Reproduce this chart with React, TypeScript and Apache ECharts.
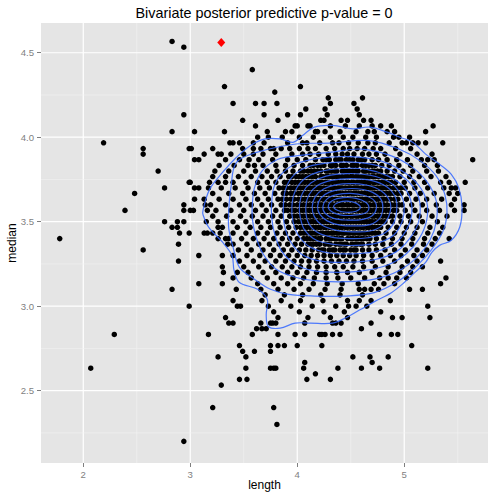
import React, { useEffect, useRef } from "react";
import * as echarts from "echarts";

// Posterior predictive draws: each row = one median value with the lengths observed at it
const medianRows: [number, number[]][] = [
  [4.567, [2.83]],
  [4.533, [2.94]],
  [4.4, [3.58]],
  [4.3, [3.32, 4.03]],
  [4.267, [3.79]],
  [4.233, [4.29, 4.61]],
  [4.2, [3.4, 3.61, 3.69, 3.81, 4.31, 4.53]],
  [4.167, [4.08, 4.26, 4.56]],
  [4.133, [2.94, 3.69, 3.91, 4.03, 4.28, 4.58]],
  [4.1, [3.49, 3.82, 4.22, 4.25, 4.41, 4.47, 4.62, 4.69]],
  [4.067, [3.61, 3.98, 4.0, 4.1, 4.12, 4.31, 4.45, 4.58, 4.7, 4.78, 4.88, 5.27]],
  [4.033, [2.83, 3.04, 3.32, 3.72, 3.89, 3.95, 4.17, 4.19, 4.26, 4.4, 4.55, 4.66, 4.72, 4.84, 4.91, 5.2]],
  [4.0, [3.63, 3.73, 3.86, 4.02, 4.15, 4.31, 4.43, 4.52, 4.64, 4.74, 4.9, 4.95, 5.05]],
  [3.967, [2.19, 3.37, 3.4, 3.46, 3.59, 3.69, 3.91, 4.05, 4.09, 4.21, 4.33, 4.39, 4.48, 4.57, 4.66, 4.73, 4.86, 4.98, 5.02, 5.08, 5.13, 5.2, 5.36]],
  [3.933, [2.56, 2.99, 3.01, 3.21, 3.49, 3.59, 3.66, 3.75, 3.78, 3.85, 3.93, 4.02, 4.1, 4.17, 4.27, 4.35, 4.43, 4.49, 4.56, 4.63, 4.71, 4.78, 4.92, 5.06]],
  [3.9, [2.56, 3.13, 3.26, 3.29, 3.38, 3.5, 3.59, 3.68, 3.8, 3.95, 4.05, 4.12, 4.2, 4.29, 4.36, 4.42, 4.47, 4.53, 4.61, 4.67, 4.74, 4.82, 4.96, 5.12, 5.26]],
  [3.867, [3.04, 3.08, 3.33, 3.46, 3.55, 3.64, 3.77, 3.91, 4.0, 4.08, 4.17, 4.24, 4.3, 4.36, 4.41, 4.46, 4.52, 4.57, 4.63, 4.7, 4.76, 4.84, 4.93, 5.03, 5.16, 5.22, 5.28, 5.64]],
  [3.833, [3.27, 3.41, 3.54, 3.6, 3.68, 3.8, 3.89, 3.97, 4.05, 4.12, 4.19, 4.25, 4.31, 4.36, 4.41, 4.46, 4.51, 4.56, 4.61, 4.67, 4.73, 4.79, 4.86, 4.95, 5.06, 5.19, 5.31]],
  [3.8, [2.7, 3.23, 3.36, 3.5, 3.61, 3.72, 3.81, 3.89, 3.96, 4.03, 4.1, 4.16, 4.22, 4.27, 4.32, 4.37, 4.42, 4.47, 4.52, 4.57, 4.62, 4.67, 4.72, 4.78, 4.84, 4.91, 4.99, 5.08, 5.21, 5.32]],
  [3.767, [3.21, 3.33, 3.45, 3.57, 3.67, 3.76, 3.84, 3.92, 3.99, 4.05, 4.11, 4.17, 4.22, 4.27, 4.32, 4.37, 4.42, 4.47, 4.52, 4.57, 4.62, 4.67, 4.72, 4.77, 4.83, 4.89, 4.96, 5.05, 5.14, 5.25, 5.39]],
  [3.733, [2.99, 3.0, 3.18, 3.26, 3.33, 3.4, 3.52, 3.63, 3.72, 3.8, 3.88, 3.95, 4.01, 4.07, 4.13, 4.18, 4.23, 4.28, 4.33, 4.38, 4.43, 4.48, 4.53, 4.58, 4.63, 4.68, 4.73, 4.79, 4.85, 4.92, 5.0, 5.09, 5.19, 5.34, 5.42, 5.57]],
  [3.7, [2.76, 3.04, 3.08, 3.17, 3.29, 3.42, 3.54, 3.65, 3.74, 3.83, 3.9, 3.97, 4.03, 4.09, 4.15, 4.2, 4.25, 4.3, 4.35, 4.4, 4.45, 4.5, 4.55, 4.6, 4.65, 4.7, 4.75, 4.8, 4.86, 4.93, 5.01, 5.1, 5.22, 5.37, 5.44, 5.48]],
  [3.667, [2.48, 3.21, 3.36, 3.49, 3.6, 3.7, 3.79, 3.87, 3.94, 4.01, 4.07, 4.13, 4.18, 4.23, 4.28, 4.33, 4.38, 4.43, 4.48, 4.53, 4.58, 4.63, 4.68, 4.73, 4.78, 4.84, 4.9, 4.97, 5.05, 5.15, 5.28, 5.42, 5.5]],
  [3.633, [3.04, 3.13, 3.27, 3.4, 3.52, 3.63, 3.73, 3.82, 3.9, 3.97, 4.04, 4.1, 4.16, 4.21, 4.26, 4.31, 4.36, 4.41, 4.46, 4.51, 4.56, 4.61, 4.66, 4.71, 4.76, 4.81, 4.87, 4.94, 5.02, 5.11, 5.21, 5.35, 5.47]],
  [3.6, [2.94, 3.14, 3.19, 3.33, 3.46, 3.57, 3.67, 3.76, 3.85, 3.93, 4.0, 4.06, 4.12, 4.18, 4.23, 4.28, 4.33, 4.38, 4.43, 4.48, 4.53, 4.58, 4.63, 4.68, 4.73, 4.78, 4.84, 4.91, 4.98, 5.07, 5.17, 5.3, 5.44, 5.56]],
  [3.567, [2.39, 2.94, 3.0, 3.03, 3.16, 3.24, 3.38, 3.5, 3.61, 3.71, 3.8, 3.88, 3.95, 4.02, 4.08, 4.14, 4.19, 4.24, 4.29, 4.34, 4.39, 4.44, 4.49, 4.54, 4.59, 4.64, 4.69, 4.74, 4.8, 4.86, 4.93, 5.01, 5.1, 5.21, 5.33, 5.47, 5.56]],
  [3.533, [3.21, 3.34, 3.47, 3.58, 3.68, 3.77, 3.85, 3.93, 4.0, 4.06, 4.12, 4.17, 4.22, 4.27, 4.32, 4.37, 4.42, 4.47, 4.52, 4.57, 4.62, 4.67, 4.72, 4.77, 4.83, 4.89, 4.96, 5.04, 5.14, 5.26, 5.4]],
  [3.5, [2.76, 2.88, 2.94, 3.15, 3.26, 3.4, 3.52, 3.63, 3.73, 3.82, 3.9, 3.97, 4.04, 4.1, 4.15, 4.2, 4.25, 4.3, 4.35, 4.4, 4.45, 4.5, 4.55, 4.6, 4.65, 4.7, 4.76, 4.82, 4.89, 4.97, 5.06, 5.17, 5.31]],
  [3.467, [2.83, 2.88, 3.26, 3.3, 3.44, 3.56, 3.66, 3.75, 3.84, 3.92, 3.99, 4.06, 4.12, 4.17, 4.22, 4.27, 4.32, 4.37, 4.42, 4.47, 4.52, 4.57, 4.62, 4.67, 4.72, 4.78, 4.85, 4.93, 5.02, 5.12, 5.24, 5.36]],
  [3.433, [2.9, 2.99, 3.13, 3.16, 3.21, 3.28, 3.4, 3.52, 3.63, 3.72, 3.81, 3.89, 3.96, 4.03, 4.09, 4.14, 4.19, 4.24, 4.29, 4.34, 4.39, 4.44, 4.49, 4.54, 4.59, 4.64, 4.7, 4.76, 4.83, 4.91, 5.0, 5.1, 5.22, 5.33]],
  [3.4, [1.78, 3.26, 3.33, 3.36, 3.48, 3.59, 3.69, 3.78, 3.86, 3.93, 4.0, 4.06, 4.12, 4.17, 4.22, 4.27, 4.32, 4.37, 4.42, 4.47, 4.52, 4.57, 4.62, 4.68, 4.74, 4.81, 4.89, 4.98, 5.08, 5.19, 5.29, 5.42]],
  [3.367, [2.89, 3.35, 3.4, 3.53, 3.64, 3.74, 3.83, 3.91, 3.98, 4.04, 4.1, 4.15, 4.21, 4.26, 4.31, 4.36, 4.41, 4.46, 4.51, 4.56, 4.61, 4.67, 4.73, 4.8, 4.88, 4.97, 5.07, 5.18, 5.26]],
  [3.333, [2.56, 3.45, 3.57, 3.68, 3.78, 3.87, 3.95, 4.02, 4.08, 4.14, 4.2, 4.25, 4.3, 4.35, 4.4, 4.45, 4.5, 4.55, 4.61, 4.67, 4.74, 4.82, 4.91, 5.01, 5.12, 5.21]],
  [3.3, [3.08, 3.3, 3.4, 3.53, 3.65, 3.75, 3.84, 3.92, 4.0, 4.07, 4.13, 4.19, 4.25, 4.31, 4.37, 4.43, 4.49, 4.55, 4.62, 4.7, 4.78, 4.87, 4.97, 5.09, 5.17]],
  [3.267, [2.89, 3.46, 3.59, 3.7, 3.8, 3.89, 3.97, 4.04, 4.11, 4.18, 4.25, 4.32, 4.39, 4.46, 4.53, 4.61, 4.7, 4.8, 4.91, 5.03, 5.12, 5.34]],
  [3.233, [3.3, 3.5, 3.64, 3.76, 3.86, 3.95, 4.03, 4.11, 4.19, 4.27, 4.35, 4.43, 4.52, 4.62, 4.73, 4.85, 4.98, 5.08, 5.17]],
  [3.2, [3.31, 3.44, 3.54, 3.68, 3.8, 3.91, 4.0, 4.09, 4.18, 4.27, 4.37, 4.47, 4.58, 4.7, 4.83, 4.96, 5.06]],
  [3.167, [3.4, 3.57, 3.72, 3.85, 3.96, 4.06, 4.16, 4.27, 4.38, 4.5, 4.63, 4.77, 4.85, 4.93, 5.02, 5.39]],
  [3.133, [3.08, 3.3, 3.63, 3.78, 3.91, 4.03, 4.15, 4.28, 4.42, 4.57, 4.72, 4.81, 4.91, 5.34]],
  [3.1, [2.83, 3.43, 3.66, 3.82, 3.97, 4.11, 4.26, 4.41, 4.58, 4.63, 4.69, 4.76, 5.05, 5.17]],
  [3.067, [3.7, 3.88, 4.05, 4.22, 4.4, 4.61]],
  [3.033, [3.4, 3.67, 3.85, 4.03, 4.24, 4.47, 4.58, 4.69, 4.87]],
  [3.0, [2.99, 3.44, 3.47, 3.73, 3.94, 4.14, 4.36, 4.48, 4.55, 4.65, 5.22]],
  [2.967, [3.78, 4.02, 4.25, 4.44, 4.78]],
  [2.933, [3.33, 3.82, 4.1, 4.31, 4.47, 4.89, 4.98, 5.24]],
  [2.9, [3.36, 3.4, 3.66, 3.75, 3.77, 3.8, 4.07, 4.33, 4.36, 4.41, 4.69]],
  [2.867, [3.62, 3.67, 3.71, 4.6]],
  [2.833, [2.29, 3.17, 3.58, 3.82, 3.98, 4.07, 4.21, 4.23, 4.26, 4.33, 4.4, 4.77, 4.88, 4.94]],
  [2.767, [3.46, 3.75, 3.82, 3.88, 4.0, 4.23, 5.07]],
  [2.733, [3.49, 3.6, 3.75]],
  [2.7, [3.26, 3.52, 4.52, 4.68, 4.85]],
  [2.667, [4.07, 4.7]],
  [2.633, [2.07, 3.52, 3.75, 3.78, 3.8, 4.06, 4.38, 4.6, 4.77, 5.22]],
  [2.6, [4.17]],
  [2.567, [3.46, 3.53, 4.09, 4.31]],
  [2.533, [3.29]],
  [2.4, [3.21, 3.78]],
  [2.3, [3.81]],
  [2.2, [2.94]],
];

// Extra draws in the densest part of the cloud (overlapping the rows above)
const denseCoreRows: [number, number[]][] = [
  [3.867, [4.27, 4.39, 4.49, 4.6]],
  [3.833, [4.15, 4.22, 4.33, 4.43, 4.53, 4.64, 4.7]],
  [3.8, [4.06, 4.13, 4.19, 4.29, 4.35, 4.44, 4.49, 4.55, 4.64, 4.7, 4.75]],
  [3.767, [3.95, 4.02, 4.08, 4.14, 4.24, 4.29, 4.34, 4.39, 4.45, 4.5, 4.55, 4.6, 4.64, 4.7, 4.75, 4.8, 4.86]],
  [3.733, [3.91, 3.98, 4.04, 4.1, 4.15, 4.21, 4.26, 4.3, 4.36, 4.41, 4.46, 4.51, 4.56, 4.6, 4.66, 4.71, 4.76, 4.82, 4.88]],
  [3.7, [3.87, 3.94, 4.0, 4.06, 4.12, 4.17, 4.22, 4.28, 4.33, 4.38, 4.42, 4.48, 4.53, 4.57, 4.63, 4.68, 4.72, 4.78, 4.83, 4.9, 4.97]],
  [3.667, [3.9, 3.97, 4.04, 4.1, 4.15, 4.21, 4.26, 4.31, 4.35, 4.4, 4.46, 4.51, 4.55, 4.61, 4.66, 4.7, 4.76, 4.81, 4.87, 4.94]],
  [3.633, [3.86, 3.94, 4.01, 4.07, 4.13, 4.18, 4.24, 4.29, 4.33, 4.39, 4.44, 4.49, 4.53, 4.59, 4.64, 4.69, 4.74, 4.79, 4.84, 4.91]],
  [3.6, [3.89, 3.96, 4.03, 4.09, 4.15, 4.21, 4.26, 4.31, 4.36, 4.41, 4.46, 4.51, 4.56, 4.61, 4.66, 4.71, 4.76, 4.81, 4.88, 4.95]],
  [3.567, [3.91, 3.98, 4.05, 4.11, 4.17, 4.22, 4.27, 4.32, 4.37, 4.42, 4.47, 4.52, 4.57, 4.62, 4.67, 4.72, 4.77, 4.83, 4.9]],
  [3.533, [3.97, 4.03, 4.09, 4.15, 4.2, 4.25, 4.3, 4.35, 4.4, 4.45, 4.5, 4.55, 4.6, 4.65, 4.7, 4.75, 4.8, 4.86]],
  [3.5, [4.01, 4.07, 4.13, 4.18, 4.23, 4.28, 4.33, 4.38, 4.43, 4.48, 4.53, 4.58, 4.63, 4.68, 4.73, 4.79]],
  [3.467, [4.03, 4.09, 4.15, 4.2, 4.25, 4.3, 4.35, 4.4, 4.45, 4.5, 4.55, 4.6, 4.65, 4.7, 4.75]],
  [3.433, [4.06, 4.12, 4.17, 4.22, 4.27, 4.32, 4.37, 4.42, 4.47, 4.52, 4.57, 4.62, 4.67, 4.73]],
  [3.4, [4.09, 4.15, 4.2, 4.3, 4.35, 4.4, 4.5, 4.55, 4.6, 4.65]],
  [3.367, [4.13, 4.18, 4.29, 4.39, 4.44, 4.54, 4.59]],
  [3.333, [4.23, 4.33, 4.43, 4.53]],
];

// Observed statistic (red diamond)
const observedLength = [3.29];
const observedMedian = [4.56];

// 2D density contours, outermost first: [length, median] vertices
const densityContours: number[][][] = [
  [[3.12, 3.57], [3.18, 3.69], [3.3, 3.79], [3.43, 3.88], [3.56, 3.95], [3.7, 3.99], [3.84, 3.99], [3.96, 3.97], [4.05, 4.01], [4.16, 4.06], [4.33, 4.07], [4.52, 4.05], [4.68, 4.06], [4.84, 4.03], [4.96, 4.0], [5.08, 3.97], [5.2, 3.9], [5.33, 3.84], [5.44, 3.78], [5.51, 3.7], [5.54, 3.59], [5.52, 3.47], [5.44, 3.39], [5.33, 3.36], [5.26, 3.32], [5.2, 3.26], [5.1, 3.2], [5.0, 3.14], [4.88, 3.08], [4.73, 3.03], [4.59, 2.98], [4.45, 2.93], [4.33, 2.9], [4.12, 2.9], [3.98, 2.9], [3.84, 2.87], [3.73, 2.88], [3.71, 2.95], [3.72, 3.04], [3.63, 3.1], [3.46, 3.14], [3.41, 3.21], [3.39, 3.3], [3.3, 3.38], [3.18, 3.46], [3.12, 3.54]],
  [[3.36, 3.57], [3.38, 3.7], [3.43, 3.85], [3.62, 3.91], [3.99, 3.96], [4.3, 3.965], [4.67, 3.98], [4.95, 3.93], [5.15, 3.86], [5.3, 3.77], [5.38, 3.66], [5.4, 3.55], [5.36, 3.44], [5.25, 3.33], [5.12, 3.24], [4.95, 3.15], [4.72, 3.08], [4.44, 3.06], [4.16, 3.06], [3.92, 3.07], [3.75, 3.1], [3.6, 3.16], [3.46, 3.23], [3.4, 3.35], [3.36, 3.46]],
  [[3.58, 3.6], [3.6, 3.7], [3.67, 3.8], [3.82, 3.87], [3.99, 3.89], [4.3, 3.91], [4.6, 3.93], [4.88, 3.89], [5.08, 3.82], [5.22, 3.73], [5.3, 3.62], [5.3, 3.5], [5.24, 3.39], [5.12, 3.29], [4.95, 3.21], [4.72, 3.16], [4.45, 3.145], [4.2, 3.15], [3.99, 3.17], [3.8, 3.22], [3.68, 3.31], [3.61, 3.42], [3.58, 3.52]],
  [[3.76, 3.6], [3.78, 3.7], [3.85, 3.78], [3.98, 3.84], [4.2, 3.875], [4.5, 3.885], [4.78, 3.86], [4.98, 3.8], [5.13, 3.72], [5.21, 3.62], [5.21, 3.51], [5.14, 3.4], [5.02, 3.31], [4.85, 3.245], [4.62, 3.21], [4.38, 3.2], [4.15, 3.21], [3.98, 3.25], [3.85, 3.33], [3.78, 3.45], [3.76, 3.54]],
  [[3.87, 3.59], [3.89, 3.69], [3.96, 3.77], [4.1, 3.825], [4.32, 3.85], [4.58, 3.85], [4.82, 3.82], [5.0, 3.76], [5.11, 3.68], [5.15, 3.59], [5.13, 3.49], [5.05, 3.4], [4.92, 3.32], [4.72, 3.275], [4.48, 3.26], [4.24, 3.265], [4.06, 3.3], [3.94, 3.38], [3.88, 3.48]],
  [[3.95, 3.59], [3.98, 3.68], [4.06, 3.75], [4.2, 3.795], [4.42, 3.815], [4.65, 3.81], [4.85, 3.77], [4.99, 3.71], [5.06, 3.63], [5.07, 3.54], [5.02, 3.45], [4.91, 3.37], [4.74, 3.325], [4.52, 3.31], [4.3, 3.315], [4.12, 3.35], [4.01, 3.42], [3.96, 3.5]],
  [[4.02, 3.59], [4.05, 3.67], [4.13, 3.73], [4.27, 3.77], [4.47, 3.785], [4.68, 3.775], [4.86, 3.735], [4.96, 3.67], [5.0, 3.59], [4.98, 3.5], [4.9, 3.42], [4.75, 3.375], [4.55, 3.36], [4.35, 3.365], [4.18, 3.39], [4.07, 3.45], [4.03, 3.52]],
  [[4.08, 3.59], [4.11, 3.66], [4.19, 3.715], [4.32, 3.745], [4.5, 3.755], [4.69, 3.745], [4.84, 3.705], [4.92, 3.64], [4.93, 3.57], [4.9, 3.49], [4.81, 3.43], [4.66, 3.405], [4.48, 3.4], [4.31, 3.41], [4.18, 3.44], [4.1, 3.5]],
  [[4.14, 3.59], [4.17, 3.65], [4.25, 3.695], [4.37, 3.72], [4.53, 3.725], [4.69, 3.71], [4.81, 3.67], [4.87, 3.61], [4.86, 3.54], [4.8, 3.48], [4.68, 3.445], [4.52, 3.44], [4.36, 3.45], [4.23, 3.48], [4.16, 3.53]],
  [[4.19, 3.59], [4.22, 3.64], [4.3, 3.675], [4.42, 3.693], [4.56, 3.695], [4.7, 3.675], [4.78, 3.635], [4.8, 3.58], [4.77, 3.52], [4.68, 3.483], [4.55, 3.475], [4.4, 3.48], [4.28, 3.505], [4.21, 3.545]],
  [[4.24, 3.59], [4.28, 3.635], [4.37, 3.66], [4.5, 3.668], [4.63, 3.655], [4.72, 3.625], [4.74, 3.58], [4.7, 3.535], [4.6, 3.512], [4.46, 3.51], [4.34, 3.52], [4.26, 3.55]],
  [[4.29, 3.59], [4.33, 3.625], [4.43, 3.642], [4.55, 3.638], [4.64, 3.615], [4.67, 3.58], [4.63, 3.55], [4.52, 3.538], [4.4, 3.54], [4.32, 3.56]],
  [[4.34, 3.59], [4.39, 3.615], [4.47, 3.622], [4.55, 3.61], [4.59, 3.585], [4.55, 3.562], [4.46, 3.556], [4.38, 3.566]],
];

const xTicks = [2, 3, 4, 5];
const yTicks = [2.5, 3.0, 3.5, 4.0, 4.5];
const xMinorTicks = [2.5, 3.5, 4.5, 5.5];
const yMinorTicks = [2.25, 2.75, 3.25, 3.75, 4.25];
const xRange = [1.605, 5.783];
const yRange = [2.072, 4.676];

const FONT = "'Liberation Sans', Arial, Helvetica, sans-serif";

export default function App() {
  const ref = useRef<HTMLDivElement>(null);

  useEffect(() => {
    if (!ref.current) return;
    const chart = echarts.init(ref.current, undefined, { renderer: "svg" });

    const points: number[][] = [];
    [...medianRows, ...denseCoreRows].forEach(([m, lengths]) =>
      lengths.forEach((l) => points.push([l, m]))
    );

    const vLines = [
      ...xMinorTicks.map((v) => [v, yRange[0], 0]),
      ...xTicks.map((v) => [v, yRange[0], 1]),
    ];
    const hLines = [
      ...yMinorTicks.map((v) => [xRange[0], v, 0]),
      ...yTicks.map((v) => [xRange[0], v, 1]),
    ];

    const gridStyle = (major: number) =>
      major ? { stroke: "#FFFFFF", lineWidth: 1.2 } : { stroke: "#F2F2F2", lineWidth: 0.6 };

    const option: any = {
      animation: false,
      backgroundColor: "#FFFFFF",
      textStyle: { fontFamily: FONT },
      grid: {
        left: 41,
        top: 23,
        right: 0,
        bottom: 31,
        show: true,
        backgroundColor: "#E5E5E5",
        borderWidth: 0,
        containLabel: false,
        outerBoundsMode: "none",
      },
      graphic: [
        {
          type: "text",
          x: 264,
          y: 13,
          style: {
            text: "Bivariate posterior predictive p-value = 0",
            fontSize: 14.4,
            fontFamily: FONT,
            fill: "#000000",
            align: "center",
            verticalAlign: "middle",
          },
        },
      ],
      xAxis: {
        type: "value",
        min: xRange[0],
        max: xRange[1],
        axisLine: { show: false },
        splitLine: { show: false },
        axisTick: {
          show: true,
          length: 4,
          customValues: xTicks,
          lineStyle: { color: "#7F7F7F", width: 1 },
        },
        axisLabel: {
          customValues: xTicks,
          color: "#7F7F7F",
          fontSize: 9.6,
          margin: 6,
          fontFamily: FONT,
          formatter: (v: number) => String(v),
        },
        name: "length",
        nameLocation: "middle",
        nameGap: 16,
        nameMoveOverlap: false,
        nameTextStyle: { color: "#000000", fontSize: 12, fontFamily: FONT },
      },
      yAxis: {
        type: "value",
        min: yRange[0],
        max: yRange[1],
        axisLine: { show: false },
        splitLine: { show: false },
        axisTick: {
          show: true,
          length: 4,
          customValues: yTicks,
          lineStyle: { color: "#7F7F7F", width: 1 },
        },
        axisLabel: {
          customValues: yTicks,
          color: "#7F7F7F",
          fontSize: 9.6,
          margin: 7,
          fontFamily: FONT,
          formatter: (v: number) => v.toFixed(1),
        },
        name: "median",
        nameLocation: "middle",
        nameGap: 23,
        nameMoveOverlap: false,
        nameTextStyle: { color: "#000000", fontSize: 12, fontFamily: FONT },
      },
      series: [
        {
          type: "custom",
          z: 1,
          silent: true,
          data: vLines,
          renderItem: (params: any, api: any) => {
            const x = api.coord([api.value(0), yRange[0]])[0];
            const cs = params.coordSys;
            return {
              type: "line",
              shape: { x1: x, y1: cs.y, x2: x, y2: cs.y + cs.height },
              style: gridStyle(api.value(2)),
            };
          },
        },
        {
          type: "custom",
          z: 1,
          silent: true,
          data: hLines,
          renderItem: (params: any, api: any) => {
            const y = api.coord([xRange[0], api.value(1)])[1];
            const cs = params.coordSys;
            return {
              type: "line",
              shape: { x1: cs.x, y1: y, x2: cs.x + cs.width, y2: y },
              style: gridStyle(api.value(2)),
            };
          },
        },
        {
          type: "scatter",
          z: 2,
          silent: true,
          symbol: "circle",
          symbolSize: 5.5,
          progressive: 0,
          itemStyle: { color: "#000000", opacity: 1 },
          data: points,
        },
        {
          type: "custom",
          z: 3,
          silent: true,
          data: densityContours.map((c, i) => [c[0][0], c[0][1], i]),
          renderItem: (params: any, api: any) => {
            const idx = api.value(2);
            const pts = densityContours[idx].map((p) => api.coord(p));
            return {
              type: "polygon",
              shape: { points: pts, smooth: 0.35 },
              style: { fill: "none", stroke: "#3366FF", lineWidth: 1.2, opacity: 0.85 },
            };
          },
        },
        {
          type: "scatter",
          z: 4,
          silent: true,
          symbol: "diamond",
          symbolSize: [8, 9],
          itemStyle: { color: "#FF0000", opacity: 1 },
          data: observedLength.map((l, i) => [l, observedMedian[i]]),
        },
      ],
    };

    chart.setOption(option);
    return () => chart.dispose();
  }, []);

  return (
    <div
      ref={ref}
      style={{ position: "absolute", left: 0, top: 0, width: 488, height: 494 }}
    />
  );
}
